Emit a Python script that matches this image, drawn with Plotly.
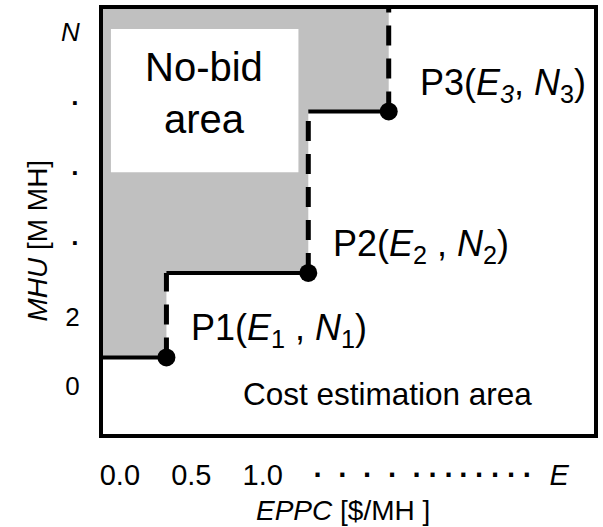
import plotly.graph_objects as go

FONT = "Arial, Liberation Sans, sans-serif"

# ---- data (axis units: EPPC [$/MH], MHU [M MH]) ----
x_tick_vals = [0.0, 0.5, 1.0, 1.389, 1.563, 1.736, 1.91, 2.083, 2.194, 2.306,
               2.41, 2.52, 2.632, 2.743, 2.854, 3.076]
x_tick_text = ["0.0", "0.5", "1.0"] + ["<b>·</b>"] * 12 + ["<i>E</i>"]
y_tick_vals = [0, 2, 4.15, 6.17, 8.2, 10.26]
y_tick_text = ["0", "2", "<b>·</b>", "<b>·</b>", "<b>·</b>", "<i>N</i>"]

point_labels = ["P1(<i>E</i><sub>1</sub> , <i>N</i><sub>1</sub>)",
                "P2(<i>E</i><sub>2</sub> , <i>N</i><sub>2</sub>)",
                "P3(<i>E<sub>3</sub></i>, <i>N</i><sub>3</sub>)"]
point_E = [0.326, 1.319, 1.882]
point_N = [0.83, 3.28, 7.96]

x_range = [-0.118, 3.319]
y_range = [-1.39, 10.93]

E1, E2, E3 = point_E
N1, N2, N3 = point_N
x0, ytop = x_range[0], y_range[1]

fig = go.Figure()

# no-bid (grey) region above the staircase
fig.add_trace(go.Scatter(
    x=[x0, E1, E1, E2, E2, E3, E3, x0],
    y=[N1, N1, N2, N2, N3, N3, ytop, ytop],
    fill="toself", fillcolor="#c0c0c0", mode="lines",
    line=dict(width=0), hoverinfo="skip", showlegend=False))

# solid horizontal steps
fig.add_trace(go.Scatter(
    x=[x0, E1, None, E1, E2, None, E2, E3],
    y=[N1, N1, None, N2, N2, None, N3, N3],
    mode="lines", line=dict(color="black", width=4), showlegend=False))

# dashed vertical steps
fig.add_trace(go.Scatter(
    x=[E1, E1, None, E2, E2, None, E3, E3],
    y=[N1, N2, None, N2, N3, None, N3, ytop],
    mode="lines", line=dict(color="black", width=5, dash="20px,13px"),
    showlegend=False))

# break points
fig.add_trace(go.Scatter(
    x=point_E, y=point_N, mode="markers",
    marker=dict(color="black", size=18), showlegend=False))

annotations = []
shifts = [(23, 27), (23, 27), (29, 26)]
for lab, ex, ny, (dx, dy) in zip(point_labels, point_E, point_N, shifts):
    annotations.append(dict(x=ex, y=ny, xref="x", yref="y", text=lab,
                            showarrow=False, xanchor="left", yanchor="middle",
                            xshift=dx, yshift=dy,
                            font=dict(family=FONT, size=36, color="black")))

annotations += [
    dict(x=0.59, y=8.49, xref="x", yref="y", text="No-bid<br>area",
         showarrow=False, xanchor="center", yanchor="middle",
         font=dict(family=FONT, size=40, color="black")),
    dict(x=0.847, y=-0.23, xref="x", yref="y", text="Cost estimation area",
         showarrow=False, xanchor="left", yanchor="middle",
         font=dict(family=FONT, size=31.5, color="black")),
    dict(x=0.489, y=-0.179, xref="paper", yref="paper",
         text="<i>EPPC</i> [$/MH ]", showarrow=False,
         xanchor="center", yanchor="middle",
         font=dict(family=FONT, size=28, color="black")),
    dict(x=-0.1333, y=0.454, xref="paper", yref="paper",
         text="<i>MHU</i> [M MH]", showarrow=False, textangle=-90,
         xanchor="center", yanchor="middle",
         font=dict(family=FONT, size=28, color="black")),
]

fig.update_layout(
    width=603, height=527,
    margin=dict(l=103, r=5, t=9, b=93, pad=0),
    paper_bgcolor="white", plot_bgcolor="white",
    showlegend=False,
    font=dict(family=FONT, color="black"),
    annotations=annotations,
    shapes=[dict(type="rect", xref="x", yref="y", x0=-0.0625, x1=1.25,
                 y0=6.20, y1=10.35, fillcolor="white",
                 line=dict(width=0), layer="above")],
    xaxis=dict(range=x_range, showgrid=False, zeroline=False,
               showline=True, linewidth=4, linecolor="black", mirror=True,
               ticks="", tickmode="array", tickvals=x_tick_vals,
               ticktext=x_tick_text, tickangle=0,
               tickfont=dict(family=FONT, size=29, color="black"),
               ticklabelstandoff=12),
    yaxis=dict(range=y_range, showgrid=False, zeroline=False,
               showline=True, linewidth=4, linecolor="black", mirror=True,
               ticks="", tickmode="array", tickvals=y_tick_vals,
               ticktext=y_tick_text,
               tickfont=dict(family=FONT, size=26, color="black"),
               ticklabelstandoff=14),
)

fig.write_html("out.html")
